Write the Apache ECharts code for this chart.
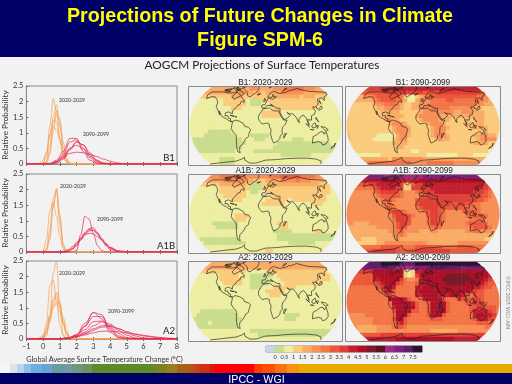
<!DOCTYPE html>
<html><head><meta charset="utf-8">
<style>html,body{margin:0;padding:0;background:#f2f2f2}#c{width:512px;height:384px}</style>
<script src="https://cdn.jsdelivr.net/npm/echarts@6/dist/echarts.min.js"></script>
</head><body><div id="c"></div>
<script>
// ---------- text ----------
const titleLine1 = 'Projections of Future Changes in Climate';
const titleLine2 = 'Figure SPM-6';
const subTitle = 'AOGCM Projections of Surface Temperatures';
const xAxisTitle = 'Global Average Surface Temperature Change (°C)';
const yAxisTitle = 'Relative Probability';
const footer = 'IPCC - WGI';
const credit = '©IPCC 2007: WG1-AR4';
const scenarios = ['B1', 'A1B', 'A2'];
const periods = ['2020-2029', '2090-2099'];

// ---------- PDF curves: x samples and relative probability ----------
const earlyXs = [-1, -0.4, -0.2, 0, 0.2, 0.4, 0.6, 0.8, 1.0, 1.2, 1.4, 1.6, 1.8, 8];
const lateXsB1 = [-1, 0.4, 0.8, 1.2, 1.6, 2.0, 2.4, 2.8, 3.2, 3.6, 4.0, 4.4, 4.8, 5.2, 8];
const lateXsA1B = [-1, 1, 1.25, 1.5, 1.75, 2, 2.25, 2.5, 2.75, 3, 3.25, 3.5, 3.75, 4, 4.5, 5, 8];
const lateXsA2 = [-1, 1, 1.5, 2, 2.5, 3, 3.5, 4, 4.5, 5, 5.5, 6, 6.5, 7, 7.5, 8];

const earlyB1 = [
 [0,0,0,.02,.25,1.2,2.1,1.7,.8,.25,.05,0,0,0],
 [0,0,0,0,.1,.6,1.5,1.9,1.2,.4,.08,0,0,0],
 [0,0,0,0,.05,.4,1.25,1.7,1.3,.55,.12,.02,0,0],
 [0,0,0,0,.03,.3,1.0,1.6,1.45,.7,.2,.03,0,0],
 [0,0,.03,.12,.4,.9,1.2,1.1,.75,.35,.12,.03,0,0],
 [0,0,0,.04,.3,.95,1.4,1.35,.8,.3,.06,0,0,0]
];
const lateB1 = [
 [0,.02,.12,.4,.82,.82,.4,.12,.03,0,0,0,0,0,0],
 [0,.01,.08,.3,.7,.78,.5,.2,.05,.01,0,0,0,0,0],
 [0,0,.05,.2,.5,.72,.6,.3,.1,.02,0,0,0,0,0],
 [0,0,.03,.15,.45,.7,.62,.35,.13,.03,.01,0,0,0,0],
 [0,.01,.08,.25,.5,.6,.48,.25,.1,.03,.01,0,0,0,0],
 [0,.01,.06,.2,.34,.38,.36,.31,.24,.16,.09,.04,.01,0,0]
];
const earlyA1B = [
 [0,0,0,0,.1,.7,1.7,1.95,.9,.15,0,0,0,0],
 [0,0,0,0,.05,.4,1.4,2.05,1.2,.25,.02,0,0,0],
 [0,0,0,.02,.4,1.3,1.6,1.15,.5,.1,.01,0,0,0],
 [0,0,0,0,.06,.5,1.5,2.0,1.05,.2,.01,0,0,0]
];
const lateA1B = [
 [0,0,0,0,0,.05,.55,1.15,1.05,.6,.2,.05,0,0,0,0,0],
 [0,0,0,.02,.08,.2,.4,.6,.75,.78,.62,.4,.2,.08,.01,0,0],
 [0,0,.01,.04,.12,.26,.45,.62,.72,.7,.58,.4,.24,.12,.02,0,0],
 [0,.01,.03,.08,.17,.3,.44,.56,.6,.58,.5,.38,.25,.14,.04,.01,0],
 [0,0,.01,.03,.1,.22,.38,.55,.68,.7,.6,.44,.28,.15,.03,0,0]
];
const earlyA2 = [
 [0,0,0,0,.1,.7,2.1,2.5,1.0,.15,0,0,0,0],
 [0,0,0,.05,.5,1.7,1.9,1.2,.45,.1,.01,0,0,0],
 [0,0,.01,.04,.2,.7,1.3,1.5,1.1,.5,.12,.02,0,0],
 [0,0,0,.03,.15,.55,1.15,1.45,1.2,.6,.18,.03,0,0],
 [0,0,.02,.08,.28,.75,1.2,1.35,1.0,.5,.15,.03,0,0],
 [0,0,.02,.08,.24,.58,.98,1.2,1.12,.7,.28,.07,.01,0],
 [0,.01,.04,.14,.36,.75,1.08,1.12,.85,.48,.2,.05,.01,0]
];
const lateA2 = [
 [0,0,.02,.1,.42,.85,.78,.3,.06,.01,0,0,0,0,0,0],
 [0,.01,.03,.15,.5,.85,.65,.22,.05,.01,0,0,0,0,0,0],
 [0,0,.02,.12,.4,.72,.72,.35,.1,.02,0,0,0,0,0,0],
 [0,.01,.04,.12,.3,.55,.58,.4,.18,.05,.01,0,0,0,0,0],
 [0,.01,.03,.09,.22,.42,.55,.48,.28,.12,.04,.01,0,0,0,0],
 [0,.01,.03,.08,.18,.33,.42,.44,.34,.2,.1,.04,.01,0,0,0],
 [0,0,.02,.07,.16,.28,.38,.4,.33,.24,.16,.1,.06,.03,.01,0],
 [0,.01,.03,.07,.13,.2,.25,.25,.23,.19,.15,.12,.08,.05,.03,.01]
];

// ---------- colour scale: one colour per 0.5 degC bin ----------
const binLabels = ['<0','0-0.5','0.5-1','1-1.5','1.5-2','2-2.5','2.5-3','3-3.5','3.5-4','4-4.5','4.5-5','5-5.5','5.5-6','6-6.5','6.5-7','7-7.5','>7.5'];
const binColors = ['#c9d5e6','#c9dd8c','#eeeea2','#fbcb7c','#f9ac66','#f78f56','#f37546','#ec583b','#df3f36','#c41f2e','#ae1028','#781a28','#5e1020','#9c2c82','#80207a','#5c2068','#301030'];
const binKeys = '-abcdefghijklmnop';

// ---------- warming maps: rows of bin keys, north to south ----------
const mapB1Early = [
 'ddddddddddddddddeeddddeeefffffeeeddddddd',
 'dddddddddddddeeddcdcddddeeeeeeddddddddd',
 'cccccccccccdddccccccccdddddddcdddcccbbbb',
 'bbbbbbbbbccccccbaaacccccccccccccccbbbbbb',
 'bbbbbbbbbccccccbaaabbccccccccccccccbbbbb',
 'bbbbbbbbbbbcccbbbbbbbbcccccccccccbbbbbbb',
 'bbbbbbbbbbbbbbbbbbbcccccbbbbbbbbbbbbbbbb',
 'bbbbbbbbbbbbbbbbbbbcccccbbbbbbbbbbbbbbbb',
 'bbbbbbbbbbbbbbbbbbbbbbbbbbbbbbbbbbbbbbbb',
 'bbbbbbbbbbbbbbbbbbbbbbbbbbbbbbbbbbbbbbbb',
 'bbbbbbbbbbbbbbbbbbbbbbbbbbbbbbbbbbbbbbbb',
 'bbbbbaaaaaabbbbbbbbbbbbbbbbbbbbbbbbbbbbb',
 'bbbbaaaaaaaabbbbaaaaabbbbbbbbbbbbbbbbbbb',
 'baaaaaaaaaaaaabbbaaabbbbbbbaaabbbbbbbbbb',
 'baaaaaaaaaaaaaabbbbbbbbaaaaaaaaaaaaaabbb',
 'baaaaaaaaaaaaabbbbbbbbaaaaaaaaaaaaaaaaaa',
 'bbaaaaaaaaaabbbbbaaaaaaaaaaaaaaaaaaaaaaa',
 'bbbbbbbbbbbbbbbbbbbbbbbbaaaaaaaabbbbbbbb',
 'bbbbbbbbaaaabbbbbbbbbbbbbbbbbbbbbbbbbbbb',
 'bbbbbbbbaaaabbbbbbbbbbbbbbbbbbbbbbbbbbbb'
];
const mapB1Late = [
 'hhhhhhhhhiiiiiiiiiiiiiiiiiiiiiiiiiiihhhh',
 'ggggggggggghhhhhhhhhgggghhhhhhhhhhhggggg',
 'dddddeefggggggfcbbcdefggggggggggggffeedd',
 'dddddddefggggfedbbdeeeffffggfffffffeeddd',
 'cccccccdeefffedccddeeeffffffffffffeedddd',
 'ccccccccddeeeedccdddeefffffeeeeeeddccccc',
 'cccccccccdddddcccccdeeeeeeeeddeeedddcccc',
 'ccccccccccdddddcccdeeeeeddddddddddddcccc',
 'ccccccccccdeddcccccdeeeedddcccccccddcccc',
 'cccccccccccdeeedcccccdeeedcccccdddddcccc',
 'ccccccccccccdeeedcccccdeeedccccccddddccc',
 'ccccccccccccdeeedcccccdeeeccccccccccdccc',
 'dcccccccbbbbbdeedcccccdeeedccccccddeeddc',
 'dccccccbbbbbcdeecccccccdeddcccccccdeeeed',
 'ccccccccccccddddcccccccccccccccccddddccc',
 'cccccccccccccddccccccccccccccccccccccccc',
 'cccccccccccccccccbbccccccccccccccccccbbb',
 'cccbbbbbbccccccccccccbbbbbbbbccccbbbbbbb',
 'dddddddddddceeeeeeeedddddddddddddddddddd',
 'eeeeeefffffffffffeeeefffffffeeeeeeeeeeee'
];
const mapA1BEarly = [
 'eeeeeeeefffffffeeeeeefffgggggffffeeeeeee',
 'dddddddddeeeeeeddcccddddeeeefeeedddddddd',
 'ccccccccdddddddcaaaccdddddddddddddcccccc',
 'bbbbbbbbccccccccaaaccccccccccccccccccbbb',
 'bbbbbbbbcccccccbaabbcccccccccccccccccbbb',
 'bbbbbbbbbccccccbbbbbbbccccccccccccccbbbb',
 'bbbbbbbbbbbcccbbbbbbccccccbcccccccccbbbb',
 'bbbbbbbbbbbbbbbbbbbccccccbbbbbbbcccbbbbb',
 'bbbbbbbbbbbbbbbbbbbbbbbbbbbbbbbbbbbbbbbb',
 'bbbbbbbbbbbbbbbbbbbbbbbbbbbbbbbbbbbbbbbb',
 'bbbbbbbbbbbbccccbbbbbbbbbbbbbbbbbbbbbbbb',
 'bbbbbbbbbbbbcccbbbbbbbbbbbbbbbbbbbbbbbbb',
 'bbbbbbaaaaaaabbbbbbbbbbcccbbbbbbbbbbbbbb',
 'bbbbbbbaaaaaabbbbbbbbbbbccbbbbbbbbbbbbbb',
 'bbbbbbbbbbbbbbbbbbbbbbaaaaabbbbbbccbbbbb',
 'bbbbbbbbbbbbbbbbbbbbbbbaaaaaaaaaaaaaaaab',
 'bbbaaaaaaaaaabbbbbbbbbbaaaaaaaaaaaaaaaaa',
 'bbbbaaaaaaaaaaabbbbbbbbbbbaaaaaaabbbbbbb',
 'bbbbbbbbbbbbbbbbbbbbbbbbbbbbbbbbbbbbbbbb',
 'bbbbbbbbbbbbbbbbbbbbccbbbbbbbbbbbbbbbbbb'
];
const mapA1BLate = [
 'nnnnnnnnnnmmmmmmmmmmnnnnnnnnnnnnnnnnnnnn',
 'iiiiiiiiijjjjjiiiiijjjjjjjjjjjjjjjjjiiii',
 'gggggghhiiiiiihcdghhiiiiiiiiiiiiiiiihhgg',
 'fffffffghiiiihgcchhhhhiiiiiiiiiiiiihhgff',
 'eeeeeeefghhhhgfeeefghhhiiiiiiiiiihhhgfee',
 'eeeeeeeefgggggfeeeefghhhhhhhhhhhhhhggfee',
 'eeeeeeeeefggfeeeeeghhhhhhhhhhhhhhhggfeee',
 'eeeeeeeeeeffeeeeeeghhhhhhhhgghhggffeeeee',
 'eeeeeeeeeefgfeeeeefghhhhgggggggffffeeeee',
 'eeeeeeeeeeeghhgfeeeefghhgfeeeefgggfeeeee',
 'eeeeeeeeeeeeghhhgfeeeghhgfeeeeeffgggfeee',
 'eeeeeeeeeeeefhhhgeeeefhhgfeeeeeeffffeeee',
 'eeddddeeeeeeeghhgeeeefhhgeeeeeefggggfeee',
 'ddddddddeeeeeghgeeeeeefgfeeeeeeefggggfee',
 'dddddddddddeefgeeeedddeedddddddeeffeeedd',
 'ddddddddddddeefedddddddddddddddddddddddd',
 'ddddccccdddddeddddddddddddddddddddddccdd',
 'dcccccccddeeeeeeeeeeeddddddddeeeeeeeeeed',
 'fffffffffgggggffffgggggggffffggggfffffff',
 'ggggggghhhhhhggggghhhhhhhhhggggggggggggg'
];
const mapA2Early = [
 'dddddddddddddddddddddddddddddddddddddddd',
 'dddddddddddddddddddddddddddddddddddddddd',
 'cccccccccccccccbbbbbccccccccccccccccbbbb',
 'bbbbbbbbcccccbbbaaaaaabccccccccccccccbbb',
 'bbbbbbbbccccccbbaaaaabbbcccccccccccccbbb',
 'bbbbbbbbbcccccbbaaaaabbbbccccccccccbbbbb',
 'bbbbbbbbbbbbbbbbaaabbbccccccbbbbbbbbbbbb',
 'bbbbbbbbbbbbbbbbbbbbcccccbbbbbbbbbbbbbbb',
 'bbbbbbbbbbbbbbbbbbbbbcccbbbbbbbbbbbbbbbb',
 'bbbbbbbbbbbbbbbbbbbbbbbbbbbbbbbbbbbbbbbb',
 'bbbbbbbbbbbbbbbbbbbbbbbbbbbbbbbbbbbbbbbb',
 'bbbbbbbbbbbbbbbbbbbbbbbbbbbbbbbbbbbbbbbb',
 'bbbaaaaaaaaabbbbbbbbbbbbbbbbbbbbbbbbbbbb',
 'bbaaaaaaaaaaabbbbbbbbbbbbaaaabbbbbbbbbbb',
 'baaaaaaaaaaaaabbbbbbbbbbbaaabbbbbbbbbbbb',
 'bbaaabaaaaaaabbbbbbbbbbbbbbbbbbbbbbbbbbb',
 'bbaaaaaaaaaaabbbbbbbbbbbbbbbbbbbbbbbbbbb',
 'bbbbbbbbbbbbbbbbaaaaaaaaaaaaaaaaaaaaaaaa',
 'bbbbbbbbbbbbbbbbbbaaaaaaaaaaaaaaaaaaaaab',
 'bbbbbbbbbbbbbbbbbbbbbbbbbbbbbbbbbbbbbbbb'
];
const mapA2Late = [
 'ooooooooopppppoooopppppppppppppppppppooo',
 'nnnnnnnnnnnnmmmmmmnnnnoooooooonnnnnnnnnn',
 'hhhhhhhjjjjjjjjcbciijjjjjjjjjjjjjjjjjjhh',
 'gggggggijjjjjjicbchijjjjjjkkkkkkjjjjjihg',
 'gggggggiijjjjjhfeefijjjjjkkkkkkkkjjjihgg',
 'gggggggghijjjhgfffgiijjjjjkkkkkjjjjihggg',
 'ffffffffghjjifffffiijjjjjjjjjjjjjiihggff',
 'fffffffffgiigfffffijjjjjjjjjjjjjihggffff',
 'ffffffffffghgfffffiijjjjiiijjjigfgggffff',
 'fffffffffffjjjjigfffijjjjgfffiggghhgffff',
 'ffffffffffffjjjjjigffgjjkjgffffgghhhgfff',
 'ffffffffffffijjkjjgffgjjkjgfffffgghhgggf',
 'ffffffffffffgjjjjggffgjjjjgfffffgiiiihgf',
 'eeeeeffffffffjjjgffffgjjjgfffffffijjiihg',
 'eeeeeeefffffgjjgffffffgggffffffffgiiihgf',
 'feeeeeeffffffhigffffffffffffffffffgggfff',
 'eeedddddeeeefggfeeeeeeeeeeeeeeeeeeeeffff',
 'eeddddddeeeeeeeeeeeeeedddddddeeeeeeeeeee',
 'hhhhggggghhhhhhhhhhhhhhhhhhhhhhhhhhhhhhh',
 'iiiiiiiiiiiiijjjjjjjjjjjjjjjiiiiiiiiiiii'
];
const mapRows = [[mapB1Early, mapB1Late], [mapA1BEarly, mapA1BLate], [mapA2Early, mapA2Late]];

// ---------- coastlines as [longitude, latitude] ----------
const coastNorthAmerica = [[-165,64],[-160,70],[-156,71],[-140,70],[-125,70],[-110,68],[-95,68],[-85,70],[-82,67],[-93,60],[-85,55],[-80,52],[-78,58],[-70,62],[-65,59],[-56,52],[-65,49],[-65,44],[-70,43],[-74,40],[-76,35],[-81,31],[-80,25],[-83,29],[-90,29],[-97,27],[-97,21],[-94,18],[-90,21],[-87,21],[-88,16],[-83,15],[-83,10],[-78,9],[-80,7],[-85,10],[-92,14],[-96,16],[-105,20],[-110,24],[-113,31],[-110,23],[-115,30],[-120,34],[-124,40],[-124,48],[-130,54],[-140,60],[-150,60],[-160,56],[-165,60],[-165,64]];
const coastGreenland = [[-72,78],[-55,70],[-50,62],[-43,60],[-25,70],[-20,78],[-30,84],[-60,84],[-72,78]];
const coastSouthAmerica = [[-78,9],[-72,12],[-62,10],[-52,5],[-50,0],[-40,-3],[-35,-7],[-39,-15],[-41,-22],[-48,-26],[-53,-33],[-58,-38],[-65,-42],[-68,-50],[-68,-55],[-74,-52],[-73,-40],[-71,-30],[-70,-18],[-77,-12],[-81,-5],[-79,2],[-78,9]];
const coastAfrica = [[-6,35],[10,37],[11,33],[20,31],[32,31],[34,28],[38,18],[43,12],[51,12],[47,4],[40,-3],[39,-10],[40,-16],[35,-20],[35,-25],[30,-31],[20,-35],[17,-30],[12,-17],[13,-8],[9,-1],[9,4],[4,6],[-8,4],[-14,10],[-17,15],[-16,22],[-10,30],[-6,35]];
const coastEurasia = [[-9,37],[-9,43],[-1,44],[-4,48],[3,51],[8,54],[8,57],[12,54],[20,55],[24,59],[30,60],[22,60],[22,65],[17,62],[18,59],[13,56],[11,59],[5,59],[6,62],[15,68],[25,71],[40,67],[45,68],[60,69],[70,72],[80,73],[100,77],[113,74],[130,71],[160,70],[180,69],[175,64],[163,60],[156,52],[155,58],[140,55],[135,45],[127,40],[129,35],[125,35],[125,39],[118,39],[122,31],[118,24],[110,21],[106,19],[109,12],[105,9],[100,13],[103,2],[99,9],[97,16],[92,22],[87,21],[80,15],[78,8],[73,18],[72,21],[66,25],[57,25],[52,28],[48,30],[52,24],[56,24],[59,22],[52,16],[44,13],[39,21],[35,28],[36,36],[27,37],[26,41],[23,38],[20,41],[13,45],[18,40],[12,42],[8,44],[3,42],[-1,37],[-5,36],[-9,37]];
const coastAustralia = [[114,-22],[122,-18],[130,-12],[136,-12],[140,-17],[143,-11],[150,-23],[153,-30],[150,-37],[143,-39],[138,-34],[130,-32],[116,-35],[114,-22]];
const coastAntarctica = [[-180,-78],[-150,-76],[-120,-74],[-90,-72],[-70,-68],[-60,-64],[-62,-70],[-50,-76],[-30,-76],[0,-70],[30,-69],[60,-67],[90,-66],[120,-66],[150,-68],[170,-72],[180,-78]];
const coastIslands = [
 [[44,-25],[50,-15],[49,-12],[44,-17],[44,-25]],
 [[-5,50],[1,52],[-2,57],[-6,58],[-3,54],[-5,50]],
 [[-24,65],[-14,66],[-15,64],[-22,63],[-24,65]],
 [[131,32],[136,34],[141,36],[141,41],[145,44],[142,42],[138,37],[131,34],[131,32]],
 [[109,1],[117,7],[119,1],[116,-4],[110,-3],[109,1]],
 [[95,5],[104,-2],[106,-6],[101,-3],[95,5]],
 [[106,-7],[114,-8],[110,-8],[106,-7]],
 [[131,-1],[141,-3],[148,-8],[150,-10],[141,-9],[134,-4],[131,-1]],
 [[120,18],[122,14],[126,8],[122,7],[120,14],[120,18]],
 [[120,1],[125,1],[122,-5],[120,-5],[120,1]],
 [[173,-35],[178,-38],[174,-41],[168,-46],[167,-45],[173,-41],[173,-35]],
 [[-85,22],[-75,20],[-78,22],[-85,22]],
 [[-74,20],[-68,18],[-72,18],[-74,20]],
 [[-80,73],[-70,71],[-62,66],[-67,62],[-75,65],[-88,71],[-80,73]],
 [[-118,72],[-105,72],[-102,69],[-115,69],[-118,72]],
 [[-90,80],[-75,82],[-65,82],[-78,76],[-90,76],[-90,80]],
 [[-125,74],[-115,76],[-105,76],[-100,74],[-112,74],[-125,74]],
 [[-100,80],[-90,80],[-95,76],[-105,77],[-100,80]],
 [[-80,76],[-92,74],[-85,72],[-78,74],[-80,76]],
 [[-125,72],[-118,74],[-116,71],[-125,72]],
 [[52,71],[60,76],[68,77],[58,73],[55,70],[52,71]],
 [[12,78],[20,80],[25,79],[18,77],[12,78]],
 [[142,46],[143,53],[144,49],[142,46]],
 [[-56,47],[-53,47],[-56,51],[-59,48],[-56,47]],
 [[80,9],[82,7],[80,6],[80,9]]
];
const coastlines = [coastNorthAmerica, coastGreenland, coastSouthAmerica, coastAfrica, coastEurasia, coastAustralia, coastAntarctica, ...coastIslands];

// ---------- colours of the footer strip ----------
const stripStops = [[10,'#f4f4f4'],[17,'#d8e4ef'],[24,'#b8d4ec'],[31,'#8cbfe8'],[42,'#68b0e4'],[52,'#6aa4cc'],[65,'#689c9c'],[72,'#7898a0'],[82,'#6f9878'],[92,'#6f9060'],[155,'#5f8a28'],[167,'#7f8020'],[177,'#98801c'],[190,'#a86018'],[195,'#b8501a'],[200,'#c84018'],[210,'#d03010'],[215,'#e01808'],[254,'#ff0000'],[262,'#ff3800'],[275,'#ff5000'],[287,'#f87010'],[299,'#f89010'],[512,'#e8ac00']];

// ---------- layout ----------
const pdfGrids = [{left:25,top:86,width:152,height:78},{left:25,top:174,width:152,height:78},{left:25,top:261,width:152,height:78}];
const mapLefts = [189, 346], mapWidths = [153, 154];
const mapTops = [87, 175, 262], mapHeights = [78, 78, 79];
const labelFont = 'Lato, "Open Sans", sans-serif';
const armFont = '"Liberation Sans", Arial, sans-serif';
const earlyColor = '#f6a45f', lateColor = '#e62f58', frame = '#8a8a8a', panel = '#f2f2f2';

const grid = [], xAxis = [], yAxis = [], series = [], graphic = [];

// background bands
graphic.push({type:'rect',z:0,shape:{x:0,y:0,width:512,height:57},style:{fill:'#000066'}});
graphic.push({type:'rect',z:0,shape:{x:0,y:373,width:512,height:11},style:{fill:'#000066'}});
let stripX = 0;
stripStops.forEach(([end,color]) => {
  graphic.push({type:'rect',z:0,shape:{x:stripX,y:364,width:end-stripX,height:9},style:{fill:color}});
  stripX = end;
});
function label(text,x,y,size,opts){
  graphic.push({type:'text',z:20,x,y,rotation:(opts&&opts.rotation)||0,style:{text,fill:(opts&&opts.fill)||'#222',font:((opts&&opts.weight)||'normal')+' '+size+'px '+((opts&&opts.family)||labelFont),align:(opts&&opts.align)||'center',verticalAlign:'middle'}});
}
label(titleLine1,260,16.5,19.7,{fill:'#ffff00',weight:'bold',family:armFont});
label(titleLine2,260,40.5,19.7,{fill:'#ffff00',weight:'bold',family:armFont});
label(subTitle,262,65,11.8,{fill:'#222'});
label(xAxisTitle,104.5,360,7.3,{fill:'#333'});
label(footer,256.5,380,10.7,{fill:'#ffffff',family:armFont});
label(credit,508,303,5,{fill:'#888',rotation:-Math.PI/2});

// PDF panels
const pdfSets = [[earlyB1,earlyXs,lateB1,lateXsB1],[earlyA1B,earlyXs,lateA1B,lateXsA1B],[earlyA2,earlyXs,lateA2,lateXsA2]];
const earlyLabelPos = [[72,100],[73,186],[72,273]];
const lateLabelPos = [[96,134],[110,219],[121,311]];
const tagPos = [[169,158],[166,246],[169,331]];
pdfSets.forEach((set,i) => {
  const g = grid.length;
  grid.push({...pdfGrids[i],show:true,backgroundColor:'transparent',borderColor:frame,borderWidth:1});
  const xi = xAxis.length, yi = yAxis.length;
  xAxis.push({type:'value',gridIndex:g,min:-1,max:8,interval:1,position:'bottom',
    axisLine:{onZero:false,lineStyle:{color:frame}},axisTick:{inside:true,length:2,lineStyle:{color:'#666'}},splitLine:{show:false},
    axisLabel:{show:i===2,color:'#333',fontSize:7.5,fontFamily:labelFont,margin:4,formatter:v=>String(v).replace('-','−')}});
  xAxis.push({type:'value',gridIndex:g,min:-1,max:8,interval:1,position:'top',
    axisLine:{show:false},axisTick:{show:true,inside:true,length:2,lineStyle:{color:'#666'}},axisLabel:{show:false},splitLine:{show:false}});
  yAxis.push({type:'value',gridIndex:g,min:0,max:2.5,interval:0.5,position:'left',name:yAxisTitle,nameLocation:'middle',nameGap:17,
    nameTextStyle:{color:'#333',fontSize:8.2,fontFamily:labelFont},
    axisLine:{onZero:false,lineStyle:{color:frame}},axisTick:{inside:true,length:2,lineStyle:{color:'#666'}},splitLine:{show:false},
    axisLabel:{color:'#333',fontSize:7.5,fontFamily:labelFont,margin:3,showMinLabel:true,showMaxLabel:true}});
  const add = (curves,xs,color,period) => curves.forEach((vals,k) => series.push({
    type:'line',name:scenarios[i]+' '+period+' '+(k+1),xAxisIndex:xi,yAxisIndex:yi,showSymbol:false,symbol:'none',
    smooth:0.35,smoothMonotone:'x',silent:true,animation:false,
    lineStyle:{color,width:0.75},data:xs.map((x,n)=>[x,vals[n]])}));
  add(set[0],set[1],earlyColor,periods[0]);
  add(set[2],set[3],lateColor,periods[1]);
  label(periods[0],earlyLabelPos[i][0],earlyLabelPos[i][1],5.2,{fill:'#333'});
  label(periods[1],lateLabelPos[i][0],lateLabelPos[i][1],5.2,{fill:'#333'});
  label(scenarios[i],tagPos[i][0],tagPos[i][1],9.5,{fill:'#222'});
});

// map panels
const project = ([lon,lat]) => [lon/180*Math.sqrt(1-(lat/113)*(lat/113)), lat];
const coastData = [];
coastlines.forEach(c => { c.forEach(p => coastData.push(project(p))); coastData.push(['-','-']); });
const cols = Array.from({length:40},(_,i)=>i), rows = Array.from({length:20},(_,i)=>i);
mapRows.forEach((pair,r) => pair.forEach((mapRowsOne,c) => {
  const box = {left:mapLefts[c],top:mapTops[r],width:mapWidths[c],height:mapHeights[r]};
  const g = grid.length;
  grid.push({...box,show:false});
  const xc = xAxis.length, yc = yAxis.length;
  xAxis.push({type:'category',gridIndex:g,data:cols,show:false});
  yAxis.push({type:'category',gridIndex:g,data:rows,show:false,inverse:true});
  const xv = xAxis.length, yv = yAxis.length;
  xAxis.push({type:'value',gridIndex:g,min:-1,max:1,show:false,position:'bottom'});
  yAxis.push({type:'value',gridIndex:g,min:-80,max:80,show:false,position:'left'});
  const cells = [];
  mapRowsOne.forEach((row,j) => cols.forEach(i => {
    const ch = row[i] || row[row.length-1];
    const b = binKeys.indexOf(ch);
    cells.push({value:[i,j,b],itemStyle:{color:binColors[b]}});
  }));
  series.push({type:'heatmap',name:scenarios[r]+': '+periods[c],xAxisIndex:xc,yAxisIndex:yc,data:cells,z:2,silent:true,animation:false,progressive:0,emphasis:{disabled:true}});
  series.push({type:'line',name:'coast '+scenarios[r]+' '+periods[c],xAxisIndex:xv,yAxisIndex:yv,data:coastData,z:6,showSymbol:false,symbol:'none',silent:true,animation:false,connectNulls:false,
    lineStyle:{color:'#1f1f1f',width:0.65}});
  label(scenarios[r]+': '+periods[c],box.left+box.width/2,[82.5,170.5,257.5][r],8.3,{fill:'#222',family:armFont});
  // everything outside the map oval takes the panel colour
  const top = box.top, bot = box.top+box.height, lf = box.left, rt = box.left+box.width;
  const cx = lf+box.width/2, cy = top+box.height/2, rx = box.width/2-0.5, ry = box.height/2*1.41;
  const d = y => rx*Math.sqrt(1-((y-cy)/ry)*((y-cy)/ry));
  const L = [[lf-2,top]], R = [[rt+2,top]];
  for (let y=top; y<bot; y+=1.5){ L.push([cx-d(y),y]); R.push([cx+d(y),y]); }
  L.push([cx-d(bot),bot],[lf-2,bot]);
  R.push([cx+d(bot),bot],[rt+2,bot]);
  graphic.push({type:'polygon',z:4,silent:true,shape:{points:L},style:{fill:panel}});
  graphic.push({type:'polygon',z:4,silent:true,shape:{points:R},style:{fill:panel}});
  graphic.push({type:'rect',z:4,silent:true,shape:{x:lf-2,y:top-2,width:box.width+4,height:2},style:{fill:panel}});
  graphic.push({type:'rect',z:4,silent:true,shape:{x:lf-2,y:bot,width:box.width+4,height:2},style:{fill:panel}});
  graphic.push({type:'rect',z:5,silent:true,shape:{x:lf-0.5,y:top-0.5,width:box.width+1,height:box.height+1},style:{fill:'none',stroke:frame,lineWidth:1}});
}));

// colour key
{
  const g = grid.length;
  grid.push({left:266,top:346,width:156,height:6,show:true,backgroundColor:'transparent',borderColor:frame,borderWidth:1});
  const xc = xAxis.length, yc = yAxis.length;
  xAxis.push({type:'category',gridIndex:g,data:binLabels,show:false});
  yAxis.push({type:'category',gridIndex:g,data:['key'],show:false});
  xAxis.push({type:'value',gridIndex:g,min:-0.5,max:8,interval:0.5,position:'bottom',
    axisLine:{show:false},axisTick:{show:false},splitLine:{show:false},
    axisLabel:{color:'#333',fontSize:5.5,fontFamily:labelFont,margin:2,formatter:v=>(v<0||v>7.5)?'':String(v)}});
  series.push({type:'heatmap',name:'key',xAxisIndex:xc,yAxisIndex:yc,silent:true,animation:false,emphasis:{disabled:true},
    data:binLabels.map((b,i)=>({value:[i,0,i],itemStyle:{color:binColors[i]}}))});
}

const chart = echarts.init(document.getElementById('c'),null,{renderer:'canvas',width:512,height:384});
chart.setOption({backgroundColor:panel,animation:false,grid,xAxis,yAxis,series,graphic:{elements:graphic}});
</script></body></html>
